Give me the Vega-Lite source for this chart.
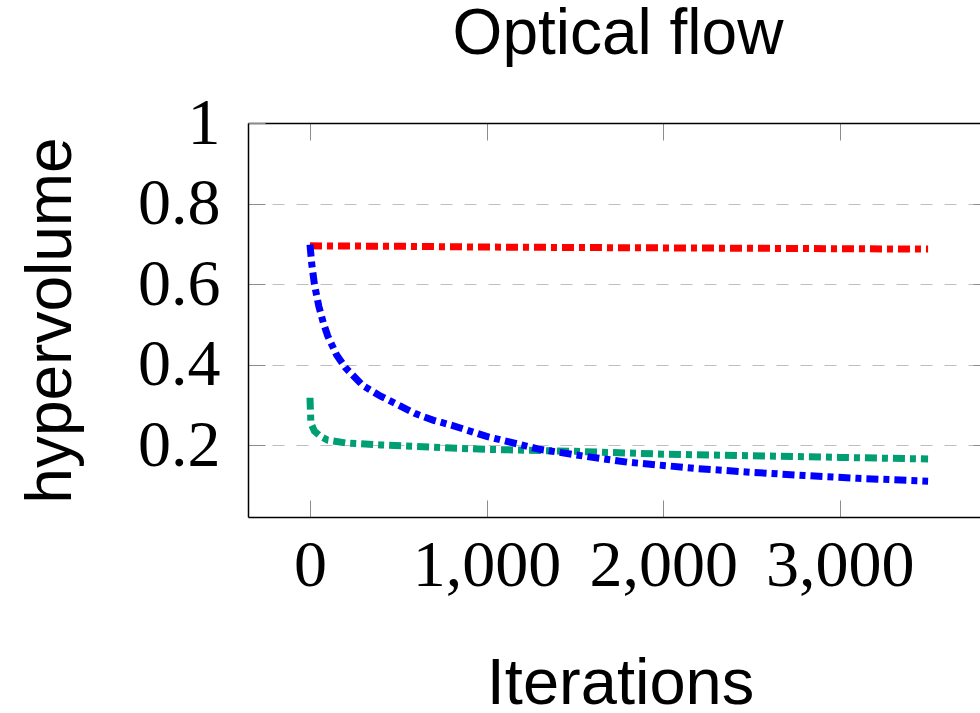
{
  "$schema": "https://vega.github.io/schema/vega-lite/v6.json",
  "width": 732,
  "height": 394,
  "autosize": {"type": "none"},
  "padding": {"left": 248, "top": 123, "right": 0, "bottom": 196},
  "background": "white",
  "config": {"view": {"stroke": null}},
  "title": {"text": "Optical flow", "font": "Liberation Sans", "fontSize": 64, "fontWeight": "normal", "color": "black", "anchor": "middle", "frame": "group", "baseline": "alphabetic", "offset": -28, "dx": 4},
  "data": {"values": [
    {"series": "red", "iter": 0, "hv": 0.695},
    {"series": "red", "iter": 500, "hv": 0.694},
    {"series": "red", "iter": 1000, "hv": 0.692},
    {"series": "red", "iter": 1500, "hv": 0.691},
    {"series": "red", "iter": 2000, "hv": 0.690},
    {"series": "red", "iter": 2500, "hv": 0.689},
    {"series": "red", "iter": 3000, "hv": 0.688},
    {"series": "red", "iter": 3500, "hv": 0.687},
    {"series": "green", "iter": 0, "hv": 0.318},
    {"series": "green", "iter": 5, "hv": 0.255},
    {"series": "green", "iter": 25, "hv": 0.235},
    {"series": "green", "iter": 60, "hv": 0.222},
    {"series": "green", "iter": 100, "hv": 0.213},
    {"series": "green", "iter": 200, "hv": 0.206},
    {"series": "green", "iter": 400, "hv": 0.201},
    {"series": "green", "iter": 600, "hv": 0.197},
    {"series": "green", "iter": 800, "hv": 0.193},
    {"series": "green", "iter": 1000, "hv": 0.190},
    {"series": "green", "iter": 1500, "hv": 0.185},
    {"series": "green", "iter": 2000, "hv": 0.178},
    {"series": "green", "iter": 2500, "hv": 0.174},
    {"series": "green", "iter": 3000, "hv": 0.170},
    {"series": "green", "iter": 3500, "hv": 0.166},
    {"series": "blue", "iter": 0, "hv": 0.698},
    {"series": "blue", "iter": 10, "hv": 0.65},
    {"series": "blue", "iter": 25, "hv": 0.60},
    {"series": "blue", "iter": 50, "hv": 0.545},
    {"series": "blue", "iter": 75, "hv": 0.505},
    {"series": "blue", "iter": 100, "hv": 0.472},
    {"series": "blue", "iter": 150, "hv": 0.425},
    {"series": "blue", "iter": 200, "hv": 0.393},
    {"series": "blue", "iter": 300, "hv": 0.348},
    {"series": "blue", "iter": 400, "hv": 0.322},
    {"series": "blue", "iter": 500, "hv": 0.300},
    {"series": "blue", "iter": 600, "hv": 0.278},
    {"series": "blue", "iter": 700, "hv": 0.262},
    {"series": "blue", "iter": 800, "hv": 0.250},
    {"series": "blue", "iter": 1000, "hv": 0.222},
    {"series": "blue", "iter": 1300, "hv": 0.190},
    {"series": "blue", "iter": 1600, "hv": 0.170},
    {"series": "blue", "iter": 1800, "hv": 0.158},
    {"series": "blue", "iter": 2000, "hv": 0.150},
    {"series": "blue", "iter": 2200, "hv": 0.142},
    {"series": "blue", "iter": 2500, "hv": 0.133},
    {"series": "blue", "iter": 2800, "hv": 0.125},
    {"series": "blue", "iter": 3100, "hv": 0.118},
    {"series": "blue", "iter": 3500, "hv": 0.111}
  ]},
  "layer": [
    {
      "mark": {"type": "line", "strokeWidth": 7, "strokeDash": [12, 5, 6, 5], "strokeCap": "butt", "clip": true},
      "encoding": {
        "x": {"field": "iter", "type": "quantitative",
          "scale": {"domain": [-351, 3794], "nice": false, "zero": false},
          "axis": {"orient": "bottom", "values": [0, 1000, 2000, 3000], "format": ",d", "title": "Iterations",
            "titleFont": "Liberation Sans", "titleFontSize": 65, "titleFontWeight": "normal", "titleColor": "black",
            "titleBaseline": "alphabetic", "titleY": 186, "titleX": 372,
            "labelFont": "Liberation Serif", "labelFontSize": 66, "labelColor": "black", "labelPadding": 33, "labelBaseline": "top", "labelFlush": false,
            "domainColor": "black", "domainWidth": 1.5, "tickColor": "#8c8c8c", "tickWidth": 1, "tickSize": -17, "grid": false}},
        "y": {"field": "hv", "type": "quantitative",
          "scale": {"domain": [0.022, 1], "nice": false, "zero": false},
          "axis": {"orient": "left", "values": [0.2, 0.4, 0.6, 0.8, 1], "title": "hypervolume",
            "labelExpr": "datum.value == 1 ? '1' : format(datum.value, '.1f')",
            "titleFont": "Liberation Sans", "titleFontSize": 64, "titleFontWeight": "normal", "titleColor": "black",
            "titleBaseline": "alphabetic", "titleX": -178, "titleAngle": 270,
            "labelFont": "Liberation Serif", "labelFontSize": 66, "labelColor": "black", "labelPadding": 45, "labelFlush": false,
            "domainColor": "black", "domainWidth": 1.5, "tickColor": "#8c8c8c", "tickWidth": 1, "tickSize": -17,
            "grid": true, "gridColor": "#bfbfbf", "gridDash": [12, 12], "gridWidth": 1}},
        "color": {"field": "series", "type": "nominal", "legend": null,
          "scale": {"domain": ["red", "green", "blue"], "range": ["#ff0000", "#009e73", "#0000ff"]}},
        "order": {"field": "iter", "type": "quantitative"}
      }
    },
    {
      "mark": {"type": "line", "opacity": 0},
      "encoding": {
        "x": {"field": "iter", "type": "quantitative",
          "axis": {"orient": "top", "values": [0, 1000, 2000, 3000], "labels": false, "title": null,
            "domainColor": "black", "domainWidth": 1.5, "tickColor": "#8c8c8c", "tickWidth": 1, "tickSize": -17, "grid": false}},
        "y": {"field": "hv", "type": "quantitative",
          "axis": {"orient": "right", "values": [0.2, 0.4, 0.6, 0.8], "labels": false, "title": null, "domain": false,
            "tickColor": "#8c8c8c", "tickWidth": 1, "tickSize": -7, "grid": false}},
        "detail": {"field": "series", "type": "nominal"}
      }
    }
  ],
  "resolve": {"axis": {"x": "independent", "y": "independent"}}
}
